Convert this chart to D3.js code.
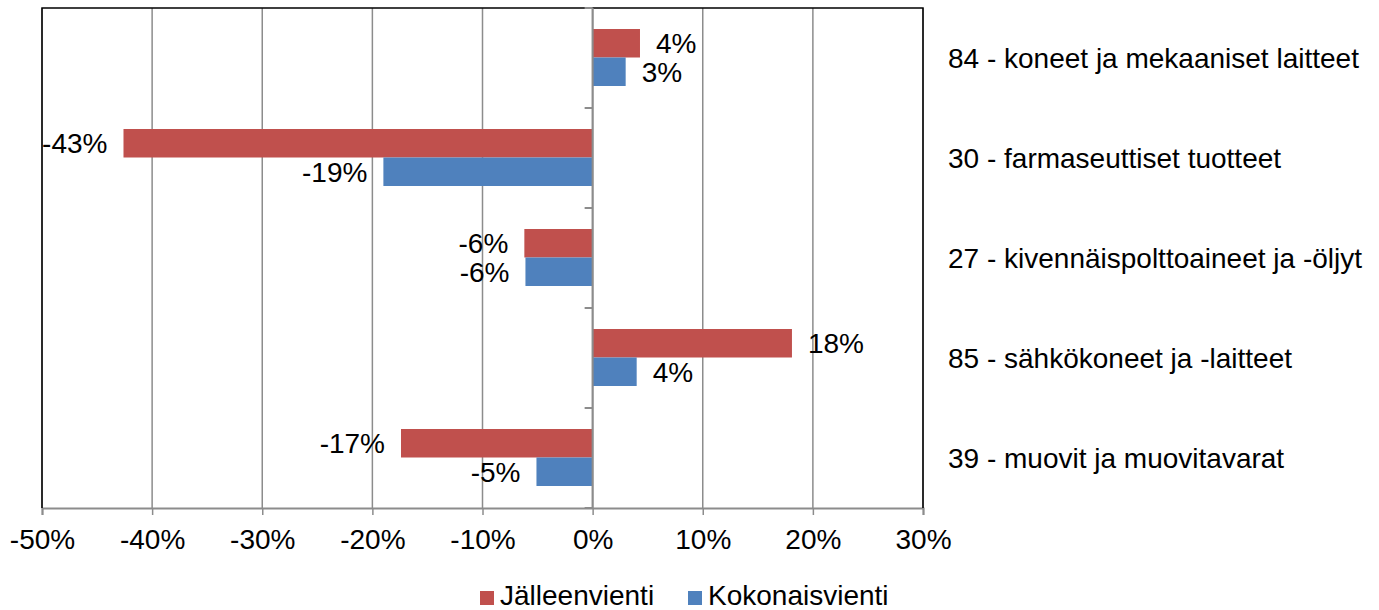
<!DOCTYPE html>
<html>
  <head>
    <meta charset="utf-8" />
    <title>Jälleenvienti ja kokonaisvienti</title>
    <script src="https://d3js.org/d3.v7.js"></script>
    <style>
      body { margin: 0; background: #fff; }
      text { font-family: 'Liberation Sans', Arial, sans-serif; fill: #000; }
    </style>
  </head>
  <body>
    <svg width="1379" height="610"></svg>

    <script>
      (function (d3) {
        'use strict';

        const categories = [
          '84 - koneet ja mekaaniset laitteet',
          '30 - farmaseuttiset tuotteet',
          '27 - kivennäispolttoaineet ja -öljyt',
          '85 - sähkökoneet ja -laitteet',
          '39 - muovit ja muovitavarat',
        ];
        const seriesNames = ['Jälleenvienti', 'Kokonaisvienti'];
        // values in %, labels show rounded values
        const jalleenvienti = [4.3, -42.6, -6.2, 18.1, -17.4];
        const kokonaisvienti = [3.0, -19.0, -6.1, 4.0, -5.1];
        const xTicks = [-50, -40, -30, -20, -10, 0, 10, 20, 30];
        const colors = ['#C0504D', '#4F81BD'];

        const svg = d3.select('svg');
        const fontSize = 28;

        const plot = { left: 42, right: 923, top: 8, bottom: 508 };

        const x = d3
          .scaleLinear()
          .domain([-50, 30])
          .range([plot.left, plot.right]);

        const y0 = d3
          .scaleBand()
          .domain(categories)
          .range([plot.top, plot.bottom]);

        const y1 = d3
          .scaleBand()
          .domain(seriesNames)
          .range([21, 78]);

        const color = d3.scaleOrdinal().domain(seriesNames).range(colors);

        const data = categories.map((c, i) => ({
          category: c,
          values: [
            { key: seriesNames[0], value: jalleenvienti[i] },
            { key: seriesNames[1], value: kokonaisvienti[i] },
          ],
        }));

        // vertical gridlines
        svg.append('g')
          .selectAll('line')
          .data(xTicks)
          .enter()
          .append('line')
          .attr('x1', (d) => x(d))
          .attr('x2', (d) => x(d))
          .attr('y1', plot.top)
          .attr('y2', plot.bottom)
          .attr('stroke', '#8c8c8c')
          .attr('stroke-width', 1.5);

        // bottom axis
        const xAxis = d3
          .axisBottom(x)
          .tickValues(xTicks)
          .tickSize(7)
          .tickPadding(14)
          .tickFormat((d) => d + '%');

        const xAxisG = svg.append('g')
          .attr('transform', `translate(0,${plot.bottom})`)
          .call(xAxis);
        xAxisG.select('.domain')
          .attr('stroke', '#8c8c8c')
          .attr('stroke-width', 2);
        xAxisG.selectAll('.tick line')
          .attr('stroke', '#8c8c8c')
          .attr('stroke-width', 1.5);
        xAxisG.selectAll('.tick text')
          .style('font-size', fontSize + 'px')
          .style('font-family', "'Liberation Sans', Arial, sans-serif")
          .attr('fill', '#000');

        // box on left, top, right
        svg.append('path')
          .attr('d', `M${plot.left},${plot.bottom}V${plot.top}H${plot.right}V${plot.bottom}`)
          .attr('fill', 'none')
          .attr('stroke', '#000')
          .attr('stroke-width', 1.5);

        // bars
        const groups = svg.append('g')
          .selectAll('g')
          .data(data)
          .enter()
          .append('g')
          .attr('transform', (d) => `translate(0,${y0(d.category)})`);

        groups.selectAll('rect')
          .data((d) => d.values)
          .enter()
          .append('rect')
          .attr('x', (d) => x(Math.min(0, d.value)))
          .attr('width', (d) => Math.abs(x(d.value) - x(0)))
          .attr('y', (d) => y1(d.key))
          .attr('height', y1.bandwidth())
          .attr('fill', (d) => color(d.key));

        groups.selectAll('text')
          .data((d) => d.values)
          .enter()
          .append('text')
          .attr('x', (d) => (d.value >= 0 ? x(d.value) + 16 : x(d.value) - 16))
          .attr('y', (d) => y1(d.key) + y1.bandwidth() / 2)
          .attr('dy', '0.36em')
          .attr('text-anchor', (d) => (d.value >= 0 ? 'start' : 'end'))
          .style('font-size', fontSize + 'px')
          .text((d) => Math.round(d.value) + '%');

        // zero axis with category ticks
        svg.append('line')
          .attr('x1', x(0))
          .attr('x2', x(0))
          .attr('y1', plot.top)
          .attr('y2', plot.bottom)
          .attr('stroke', '#8c8c8c')
          .attr('stroke-width', 2);

        const boundaries = categories.map((c) => y0(c)).concat([plot.bottom]);
        svg.append('g')
          .selectAll('line')
          .data(boundaries)
          .enter()
          .append('line')
          .attr('x1', x(0) - 8)
          .attr('x2', x(0))
          .attr('y1', (d) => d)
          .attr('y2', (d) => d)
          .attr('stroke', '#8c8c8c')
          .attr('stroke-width', 2);

        // category labels on the right
        svg.append('g')
          .selectAll('text')
          .data(categories)
          .enter()
          .append('text')
          .attr('x', 948)
          .attr('y', (d) => y0(d) + y0.bandwidth() / 2)
          .attr('dy', '0.36em')
          .style('font-size', fontSize + 'px')
          .text((d) => d);

        // legend
        const legendX = [480, 688];
        const legend = svg.append('g')
          .selectAll('g')
          .data(seriesNames)
          .enter()
          .append('g')
          .attr('transform', (d, i) => `translate(${legendX[i]},591)`);

        legend.append('rect')
          .attr('width', 14)
          .attr('height', 14)
          .attr('fill', (d) => color(d));

        legend.append('text')
          .attr('x', 20)
          .attr('y', 14)
          .style('font-size', fontSize + 'px')
          .text((d) => d);
      })(d3);
    </script>
  </body>
</html>
